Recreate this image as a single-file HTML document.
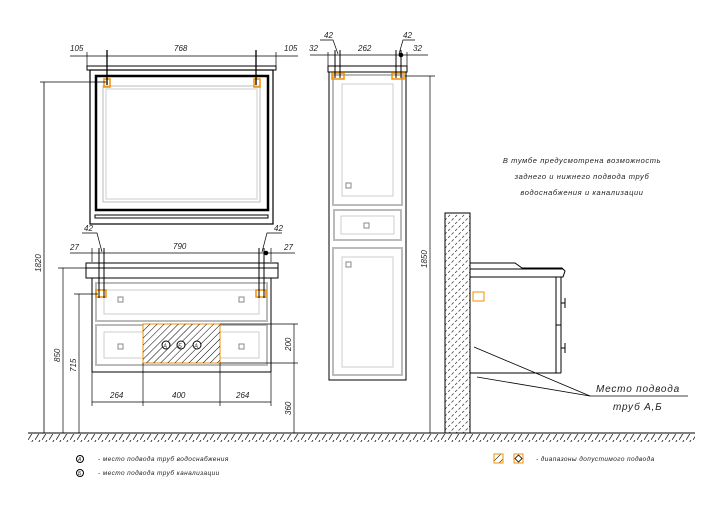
<!DOCTYPE html>
<html><head><meta charset="utf-8"><style>
html,body{margin:0;padding:0;background:#fff}
svg{display:block}
text{font-family:"Liberation Sans","DejaVu Sans",sans-serif;font-style:italic;fill:#222}
</style></head><body>
<svg width="720" height="510" viewBox="0 0 720 510" xmlns="http://www.w3.org/2000/svg">
<defs>
<pattern id="h" width="5" height="5" patternUnits="userSpaceOnUse" patternTransform="rotate(45)">
<line x1="0" y1="0" x2="0" y2="5" stroke="#000" stroke-width="1"/></pattern>
<pattern id="hw" width="7" height="7" patternUnits="userSpaceOnUse">
<line x1="0" y1="7" x2="7" y2="0" stroke="#333" stroke-width="0.7" stroke-dasharray="3,2"/></pattern>
<pattern id="hg" width="7" height="8" patternUnits="userSpaceOnUse">
<line x1="0" y1="8" x2="5" y2="0" stroke="#222" stroke-width="0.8"/></pattern>
</defs>
<g fill="none" stroke="#000" stroke-width="1">
<!-- ground -->
<line x1="28" y1="433" x2="695" y2="433"/>
<rect x="28" y="434" width="667" height="8" fill="url(#hg)" stroke="none"/>

<!-- MIRROR -->
<rect x="87" y="66" width="189" height="4"/>
<rect x="90" y="70" width="183" height="154" stroke-width="1.2"/>
<rect x="96" y="76" width="172" height="134" stroke-width="2.5"/>
<rect x="103" y="86" width="157" height="116" stroke="#bbb"/>
<rect x="106" y="89" width="151" height="110" stroke="#ccc"/>
<rect x="95" y="215" width="173" height="3"/>
<rect x="104" y="79" width="6" height="8" stroke="#f39200" stroke-width="1.5"/>
<rect x="254" y="79" width="6" height="8" stroke="#f39200" stroke-width="1.5"/>
<line x1="107" y1="50" x2="107" y2="85" stroke-width="1.3"/>
<line x1="256" y1="50" x2="256" y2="85" stroke-width="1.3"/>
<line x1="70" y1="56" x2="298" y2="56" stroke-width="0.7"/>
<line x1="87" y1="52" x2="87" y2="66" stroke-width="0.7"/>
<line x1="276" y1="52" x2="276" y2="66" stroke-width="0.7"/>
<line x1="40" y1="82" x2="106" y2="82" stroke-width="0.8"/>
<line x1="44" y1="82" x2="44" y2="433" stroke-width="0.8"/>

<!-- VANITY -->
<rect x="86" y="263" width="192" height="5"/>
<rect x="86" y="268" width="192" height="10"/>
<line x1="92" y1="278" x2="92" y2="372"/>
<line x1="271" y1="278" x2="271" y2="372"/>
<line x1="92" y1="372" x2="271" y2="372"/>
<rect x="96" y="283" width="171" height="38" stroke="#bbb" stroke-width="2"/>
<rect x="104" y="290" width="155" height="24" stroke="#ccc"/>
<rect x="96" y="325" width="171" height="40" stroke="#bbb" stroke-width="2"/>
<rect x="104" y="332" width="155" height="26" stroke="#ccc"/>
<rect x="118" y="297" width="5" height="5" stroke="#888"/>
<rect x="239" y="297" width="5" height="5" stroke="#888"/>
<rect x="118" y="344" width="5" height="5" stroke="#888"/>
<rect x="239" y="344" width="5" height="5" stroke="#888"/>
<rect x="143" y="324" width="77" height="39" fill="#fff" stroke="#f39200"/>
<rect x="143" y="324" width="77" height="39" fill="url(#h)" stroke="none"/>
<circle cx="166" cy="345" r="4" fill="#fff"/><circle cx="181" cy="345" r="4" fill="#fff"/><circle cx="197" cy="345" r="4" fill="#fff"/>
<rect x="96" y="290" width="10" height="7" stroke="#f39200" stroke-width="1.5"/>
<rect x="256" y="290" width="10" height="7" stroke="#f39200" stroke-width="1.5"/>
<line x1="99" y1="248" x2="99" y2="298"/><line x1="104" y1="248" x2="104" y2="298"/>
<line x1="259" y1="248" x2="259" y2="298"/><line x1="264" y1="248" x2="264" y2="298"/>
<line x1="70" y1="253" x2="295" y2="253" stroke-width="0.7"/>
<line x1="92" y1="248" x2="92" y2="262" stroke-width="0.7"/>
<line x1="271" y1="248" x2="271" y2="262" stroke-width="0.7"/>
<polyline points="82,233 97,233 102,252" stroke-width="0.7"/>
<polyline points="282,233 267,233 262,252" stroke-width="0.7"/>
<circle cx="266" cy="253" r="1.8" fill="#000"/>
<line x1="58" y1="268" x2="88" y2="268" stroke-width="0.7"/>
<line x1="63" y1="268" x2="63" y2="433" stroke-width="0.7"/>
<line x1="74" y1="294" x2="98" y2="294" stroke-width="0.7"/>
<line x1="79" y1="294" x2="79" y2="433" stroke-width="0.7"/>
<line x1="92" y1="372" x2="92" y2="406" stroke-width="0.7"/>
<line x1="143" y1="363" x2="143" y2="406" stroke-width="0.7"/>
<line x1="220" y1="363" x2="220" y2="406" stroke-width="0.7"/>
<line x1="271" y1="372" x2="271" y2="406" stroke-width="0.7"/>
<line x1="92" y1="402" x2="271" y2="402" stroke-width="0.7"/>
<line x1="220" y1="324" x2="298" y2="324" stroke-width="0.7"/>
<line x1="220" y1="363" x2="298" y2="363" stroke-width="0.7"/>
<line x1="294" y1="324" x2="294" y2="433" stroke-width="0.7"/>

<!-- COLUMN -->
<rect x="328" y="66" width="79" height="6"/>
<rect x="329" y="72" width="77" height="308"/>
<rect x="333" y="75" width="69" height="130" stroke="#bbb" stroke-width="2"/>
<rect x="342" y="84" width="51" height="112" stroke="#ccc"/>
<rect x="334" y="210" width="67" height="30" stroke="#bbb" stroke-width="2"/>
<rect x="341" y="216" width="53" height="18" stroke="#ccc"/>
<rect x="333" y="248" width="69" height="127" stroke="#bbb" stroke-width="2"/>
<rect x="342" y="257" width="51" height="110" stroke="#ccc"/>
<rect x="346" y="183" width="5" height="5" stroke="#888"/>
<rect x="364" y="223" width="5" height="5" stroke="#888"/>
<rect x="346" y="262" width="5" height="5" stroke="#888"/>
<rect x="332" y="73" width="12" height="6" stroke="#f39200" stroke-width="1.5"/>
<rect x="392" y="73" width="12" height="6" stroke="#f39200" stroke-width="1.5"/>
<line x1="335" y1="50" x2="335" y2="78"/><line x1="340" y1="50" x2="340" y2="78"/>
<line x1="396" y1="50" x2="396" y2="78"/><line x1="401" y1="50" x2="401" y2="78"/>
<line x1="310" y1="55" x2="428" y2="55" stroke-width="0.7"/>
<line x1="328" y1="52" x2="328" y2="66" stroke-width="0.7"/>
<line x1="407" y1="52" x2="407" y2="66" stroke-width="0.7"/>
<polyline points="320,40 333,40 338,54" stroke-width="0.7"/>
<polyline points="415,40 403,40 399,54" stroke-width="0.7"/>
<circle cx="401" cy="55" r="1.8" fill="#000"/>
<line x1="405" y1="76" x2="435" y2="76" stroke-width="0.7"/>
<line x1="430" y1="76" x2="430" y2="433" stroke-width="0.7"/>

<!-- WALL + SIDE VIEW -->
<rect x="445" y="213" width="25" height="220" fill="url(#hw)"/>
<path d="M470,263 L515,263 L522,268 L562,268 L565,271 L563,277 L470,277"/>
<line x1="470" y1="269" x2="563" y2="269"/>
<line x1="556" y1="277" x2="556" y2="373"/><line x1="561" y1="277" x2="561" y2="373"/>
<line x1="556" y1="325" x2="561" y2="325"/>
<line x1="470" y1="373" x2="561" y2="373"/>
<line x1="561" y1="303" x2="565" y2="303"/><line x1="565" y1="298" x2="565" y2="308"/>
<line x1="561" y1="348" x2="565" y2="348"/><line x1="565" y1="343" x2="565" y2="353"/>
<rect x="473" y="292" width="11" height="9" stroke="#f39200"/>
<line x1="590" y1="396" x2="688" y2="396" stroke-width="0.8"/>
<line x1="590" y1="396" x2="474" y2="347" stroke-width="0.8"/>
<line x1="590" y1="396" x2="477" y2="377" stroke-width="0.8"/>

<!-- legend -->
<circle cx="80" cy="459" r="3.5"/><circle cx="80" cy="473" r="3.5"/>
<rect x="494" y="454" width="9" height="9" fill="url(#h)" stroke="#f39200"/>
<rect x="514" y="454" width="9" height="9" stroke="#f39200"/>
<path d="M518.5,455 L522,458.5 L518.5,462 L515,458.5Z" stroke-width="0.8"/>
</g>

<g font-size="8">
<text x="70" y="51">105</text><text x="174" y="51">768</text><text x="284" y="51">105</text>
<text x="70" y="250">27</text><text x="173" y="249">790</text><text x="284" y="250">27</text>
<text x="84" y="231">42</text><text x="274" y="231">42</text>
<text x="309" y="51">32</text><text x="358" y="51">262</text><text x="413" y="51">32</text>
<text x="324" y="38">42</text><text x="403" y="38">42</text>
<text x="110" y="398">264</text><text x="172" y="398">400</text><text x="236" y="398">264</text>
<text transform="translate(41,272) rotate(-90)">1820</text>
<text transform="translate(60,362) rotate(-90)">850</text>
<text transform="translate(76,372) rotate(-90)">715</text>
<text transform="translate(291,351) rotate(-90)">200</text>
<text transform="translate(291,415) rotate(-90)">360</text>
<text transform="translate(427,268) rotate(-90)">1850</text>
<text x="163" y="348" font-size="6">A</text><text x="178" y="348" font-size="6">Б</text><text x="194" y="348" font-size="6">A</text>
<text x="78" y="461" font-size="5">A</text><text x="78" y="475" font-size="5">Б</text>
</g>
<g font-size="7.5" letter-spacing="0.6">
<text x="582" y="163" text-anchor="middle">В тумбе предусмотрена возможность</text>
<text x="582" y="179" text-anchor="middle">заднего и нижнего подвода труб</text>
<text x="582" y="195" text-anchor="middle">водоснабжения и канализации</text>
</g>
<g font-size="10" letter-spacing="0.8">
<text x="596" y="392">Место подвода</text>
<text x="613" y="410">труб А,Б</text>
</g>
<g font-size="6.5" letter-spacing="0.4">
<text x="98" y="461">- место подвода труб водоснабжения</text>
<text x="98" y="475">- место подвода труб канализации</text>
<text x="536" y="461">- диапазоны допустимого подвода</text>
</g>
</svg>
</body></html>
